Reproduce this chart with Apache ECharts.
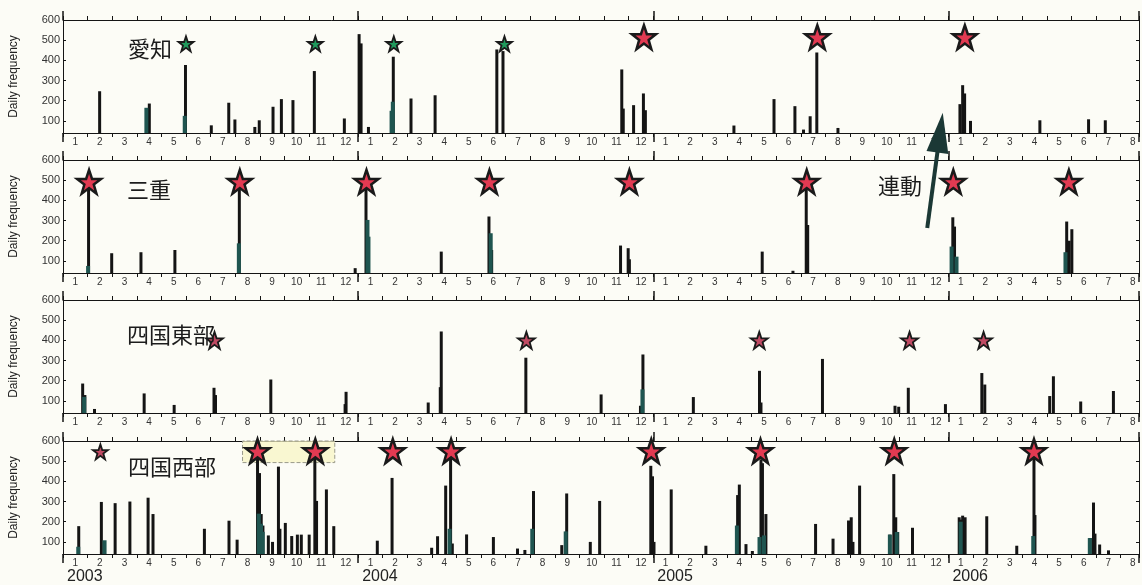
<!DOCTYPE html>
<html><head><meta charset="utf-8">
<script src="https://cdn.jsdelivr.net/npm/echarts@6/dist/echarts.min.js"></script>
<style>html,body{margin:0;padding:0;background:#fcfcf6}#c{width:1142px;height:585px}</style>
</head><body><div id="c"></div><script>
// x positions are fractional month indices (0 = start of Jan 2003)
const panelNames = ['愛知', '三重', '四国東部', '四国西部'];
const yearLabels = ['2003', '2004', '2005', '2006'];

const aichiSpikes = [[1.51,247],[3.53,186],[5.0,377],[6.05,78],[6.76,190],[7.01,107],[7.82,70],[8.0,103],[8.56,170],[8.9,208],[9.37,203],[10.24,347],[11.46,112],[12.06,530],[12.14,484],[12.44,70],[13.45,418],[14.17,211],[15.15,227],[17.66,454],[17.91,446],[22.74,355],[22.8,161],[23.22,178],[23.62,236],[23.7,153],[27.3,77],[28.93,208],[29.78,173],[30.13,57],[30.4,123],[30.67,439],[31.53,65],[36.49,183],[36.6,277],[36.68,236],[36.92,100],[39.74,103],[41.72,108],[42.4,103]];
const aichiTeal = [[3.39,165],[4.95,125],[13.36,150],[13.41,195]];
const aichiGreenStars = [[5.0,482],[10.26,482],[13.45,482],[17.95,482]];
const aichiRedStars = [[23.62,515],[30.67,515],[36.67,515]];

const mieSpikes = [[1.06,470],[2.0,138],[3.19,143],[4.57,154],[7.19,470],[11.9,64],[12.34,470],[15.4,146],[17.34,320],[17.45,154],[22.69,176],[23.0,163],[23.05,108],[28.45,146],[29.7,51],[30.24,470],[30.3,278],[36.2,316],[36.27,270],[40.83,295],[40.93,200],[41.04,257]];
const mieTeal = [[1.02,75],[7.15,187],[12.38,303],[12.42,220],[17.39,237],[36.13,171],[36.33,121],[40.76,143]];
const mieRedStars = [[1.06,492],[7.19,492],[12.34,492],[17.34,492],[23.03,492],[30.24,492],[36.2,492],[40.9,492]];

const eastSpikes = [[0.82,186],[0.91,129],[1.3,60],[3.32,137],[4.54,80],[6.16,165],[6.22,129],[8.47,206],[11.53,145],[11.49,84],[14.87,92],[15.4,444],[15.36,168],[18.84,314],[21.9,132],[23.5,76],[23.6,330],[25.65,119],[28.34,249],[28.4,92],[30.9,308],[33.85,76],[34.0,71],[34.39,165],[35.9,84],[37.38,238],[37.5,181],[40.14,124],[40.29,222],[41.4,97],[42.73,149]];
const eastTeal = [[0.86,120],[23.56,157]];
const eastStars = [[6.16,400],[18.84,400],[28.31,400],[34.42,400],[37.43,400]];

const westSpikes = [[0.66,178],[1.58,298],[2.14,292],[2.74,300],[3.48,319],[3.68,238],[5.77,165],[6.77,205],[7.1,111],[7.93,520],[8.01,441],[8.08,238],[8.15,181],[8.37,132],[8.54,100],[8.78,473],[8.84,165],[9.06,194],[9.32,129],[9.55,136],[9.71,136],[10.03,136],[10.26,530],[10.33,303],[10.73,360],[11.03,178],[12.8,106],[13.4,417],[15.01,71],[15.25,128],[15.58,379],[15.78,530],[15.85,92],[16.43,137],[17.52,124],[18.5,67],[18.8,60],[19.15,352],[20.3,84],[20.5,340],[21.46,100],[21.84,303],[23.92,477],[23.99,425],[24.05,100],[24.75,360],[26.16,81],[27.45,332],[27.52,384],[27.79,89],[28.05,55],[28.4,509],[28.46,490],[28.6,238],[30.62,189],[31.33,116],[31.96,206],[32.07,222],[32.14,100],[32.41,379],[33.64,136],[33.8,436],[33.88,222],[33.96,149],[34.56,170],[36.46,222],[36.53,210],[36.6,230],[36.7,222],[37.58,227],[38.8,81],[39.5,530],[39.54,233],[41.79,119],[41.92,295],[41.98,141],[42.17,87],[42.53,58]];
const westTeal = [[0.62,76],[1.69,108],[7.96,240],[8.05,190],[8.12,150],[15.72,165],[19.08,165],[20.44,152],[27.4,181],[28.32,124],[28.5,132],[33.62,136],[33.9,149],[36.5,200],[39.45,129],[41.75,119]];
const westSmallStars = [[1.52,546]];
const westRedStars = [[7.91,550],[10.26,550],[13.41,550],[15.78,550],[23.92,550],[28.36,550],[33.8,550],[39.48,550]];
const highlightBox = [[7.3,493],[11.05,600]];

const arrowTail = [35.14, 263];   // in 三重 panel
const arrowTip = [35.77, 140];    // in 愛知 panel
const linkText = '連動';

const XMAX = 43.75;
const tops = [20, 160, 300, 441];
const PH = 113;
const STAR = 'path://M50,2 L61.8,36.5 L97.6,36.5 L68.7,58 L79.4,93 L50,71.5 L20.6,93 L31.3,58 L2.4,36.5 L38.2,36.5 Z';
const labelFont = 'Liberation Sans';

const grids = [], xAxes = [], yAxes = [], series = [], titles = [];
const panels = [
  {spikes: aichiSpikes, teal: aichiTeal, stars: [[aichiGreenStars, 15, '#1f9a5c'], [aichiRedStars, 24, '#e23a52']]},
  {spikes: mieSpikes, teal: mieTeal, stars: [[mieRedStars, 24, '#e23a52']]},
  {spikes: eastSpikes, teal: eastTeal, stars: [[eastStars, 17, '#c04a63']]},
  {spikes: westSpikes, teal: westTeal, stars: [[westSmallStars, 15, '#c04a63'], [westRedStars, 24, '#e23a52']]}
];
const black = '#141414';
const labelTops = [38, 179, 324, 456];
const labelLefts = [128, 127, 127, 128];

panels.forEach((p, g) => {
  grids.push({left: 61, right: 2, top: tops[g], height: PH, containLabel: false});
  const base = {type: 'value', gridIndex: g, min: 0, max: XMAX, splitLine: {show: false}, axisLabel: {show: false}, axisLine: {show: false}, axisTick: {show: false}};
  xAxes.push(Object.assign({}, base, {position: 'bottom', interval: 1,
    axisLine: {show: true, onZero: false, lineStyle: {color: black, width: 1}},
    axisTick: {show: true, length: 4, lineStyle: {color: black}}}));
  xAxes.push(Object.assign({}, base, {position: 'bottom', interval: 0.5,
    axisLabel: {show: true, margin: 4, fontSize: 10, color: '#333', fontFamily: labelFont,
      formatter: v => (Math.round(v * 2) % 2 === 1) ? String(Math.floor(v) % 12 + 1) : ''}}));
  xAxes.push(Object.assign({}, base, {position: 'bottom', interval: 12,
    axisTick: {show: true, length: 9, lineStyle: {color: black, width: 1.5}}}));
  xAxes.push(Object.assign({}, base, {position: 'top', interval: 1,
    axisLine: {show: true, onZero: false, lineStyle: {color: black, width: 1}},
    axisTick: {show: true, length: 4, lineStyle: {color: black}}}));
  xAxes.push(Object.assign({}, base, {position: 'top', interval: 12,
    axisTick: {show: true, length: 9, lineStyle: {color: black, width: 1.5}}}));

  yAxes.push({type: 'value', gridIndex: g, position: 'left', min: 40, max: 600, splitNumber: 5,
    splitLine: {show: false},
    axisLine: {show: true, onZero: false, lineStyle: {color: black}},
    axisTick: {show: true, inside: true, length: 3, lineStyle: {color: black}},
    axisLabel: {margin: 3, fontSize: 11, color: '#333', fontFamily: labelFont, formatter: v => v < 100 ? '' : String(v)},
    name: 'Daily frequency', nameLocation: 'middle', nameGap: 43, nameRotate: 90,
    nameTextStyle: {fontSize: 12, color: '#222', fontFamily: labelFont}});
  yAxes.push({type: 'value', gridIndex: g, position: 'right', min: 40, max: 600, splitNumber: 5,
    splitLine: {show: false},
    axisLine: {show: true, onZero: false, lineStyle: {color: black}},
    axisTick: {show: true, inside: true, length: 3, lineStyle: {color: black}},
    axisLabel: {show: false}});

  const xi = g * 5, yi = g * 2;
  const spikeSeries = {type: 'bar', xAxisIndex: xi, yAxisIndex: yi, data: p.spikes, barWidth: 3, barGap: '-100%',
    itemStyle: {color: black}, z: 2, silent: true, animation: false};
  if (g === 3) {
    spikeSeries.markArea = {silent: true, z: 1,
      itemStyle: {color: 'rgba(248,246,196,0.75)', borderColor: '#9a9a8a', borderType: 'dashed', borderWidth: 1},
      data: [[{xAxis: highlightBox[0][0], yAxis: highlightBox[0][1]}, {xAxis: highlightBox[1][0], yAxis: highlightBox[1][1]}]]};
  }
  series.push(spikeSeries);
  series.push({type: 'bar', xAxisIndex: xi, yAxisIndex: yi, data: p.teal, barWidth: 4, barGap: '-100%',
    itemStyle: {color: '#1f5550'}, z: 3, silent: true, animation: false});
  p.stars.forEach(([pts, size, col]) => {
    series.push({type: 'scatter', xAxisIndex: xi, yAxisIndex: yi, data: pts, symbol: STAR, symbolSize: size,
      itemStyle: {color: col, borderColor: '#1a1a1a', borderWidth: size > 20 ? 2.5 : 1.8, opacity: 1},
      z: 5, silent: true, animation: false});
  });
  titles.push({text: panelNames[g], left: labelLefts[g], top: labelTops[g], padding: 0,
    textStyle: {fontSize: 22, fontWeight: 'normal', color: '#1c1c1c', fontFamily: 'Noto Sans CJK JP', lineHeight: 22}});
});

// year labels under the bottom panel
xAxes.push({type: 'value', gridIndex: 3, position: 'bottom', min: 0, max: XMAX, interval: 12,
  splitLine: {show: false}, axisLine: {show: false}, axisTick: {show: false},
  axisLabel: {show: true, margin: 15, fontSize: 16, color: '#222', fontFamily: labelFont, align: 'left', padding: [0, 0, 0, 4],
    formatter: v => { const i = Math.round(v / 12); return (Math.abs(v - i * 12) < 1e-6 && yearLabels[i]) ? yearLabels[i] : ''; }}});

titles.push({text: linkText, left: 878, top: 175, padding: 0,
  textStyle: {fontSize: 22, fontWeight: 'normal', color: '#1c1c1c', fontFamily: 'Noto Sans CJK JP', lineHeight: 22}});

const chart = echarts.init(document.getElementById('c'), null, {renderer: 'canvas'});
chart.setOption({
  backgroundColor: '#fcfcf6',
  animation: false,
  title: titles,
  grid: grids,
  xAxis: xAxes,
  yAxis: yAxes,
  series: series
});

// arrow annotation linking panels
const tailPx = [chart.convertToPixel({xAxisIndex: 5}, arrowTail[0]), chart.convertToPixel({yAxisIndex: 2}, arrowTail[1])];
const tipPx = [chart.convertToPixel({xAxisIndex: 0}, arrowTip[0]), chart.convertToPixel({yAxisIndex: 0}, arrowTip[1])];
const dx = tipPx[0] - tailPx[0], dy = tipPx[1] - tailPx[1];
const L = Math.sqrt(dx * dx + dy * dy);
const ux = dx / L, uy = dy / L;
const headLen = 40, headHalf = 11;
const bx = tipPx[0] - ux * headLen, by = tipPx[1] - uy * headLen;
const arrowColor = '#1b3835';
chart.setOption({
  graphic: [
    {type: 'line', z: 100, shape: {x1: tailPx[0], y1: tailPx[1], x2: bx + ux * 2, y2: by + uy * 2},
      style: {stroke: arrowColor, lineWidth: 4}},
    {type: 'polygon', z: 100, shape: {points: [tipPx, [bx - uy * headHalf, by + ux * headHalf], [bx + uy * headHalf, by - ux * headHalf]]},
      style: {fill: arrowColor}}
  ]
});
</script></body></html>
